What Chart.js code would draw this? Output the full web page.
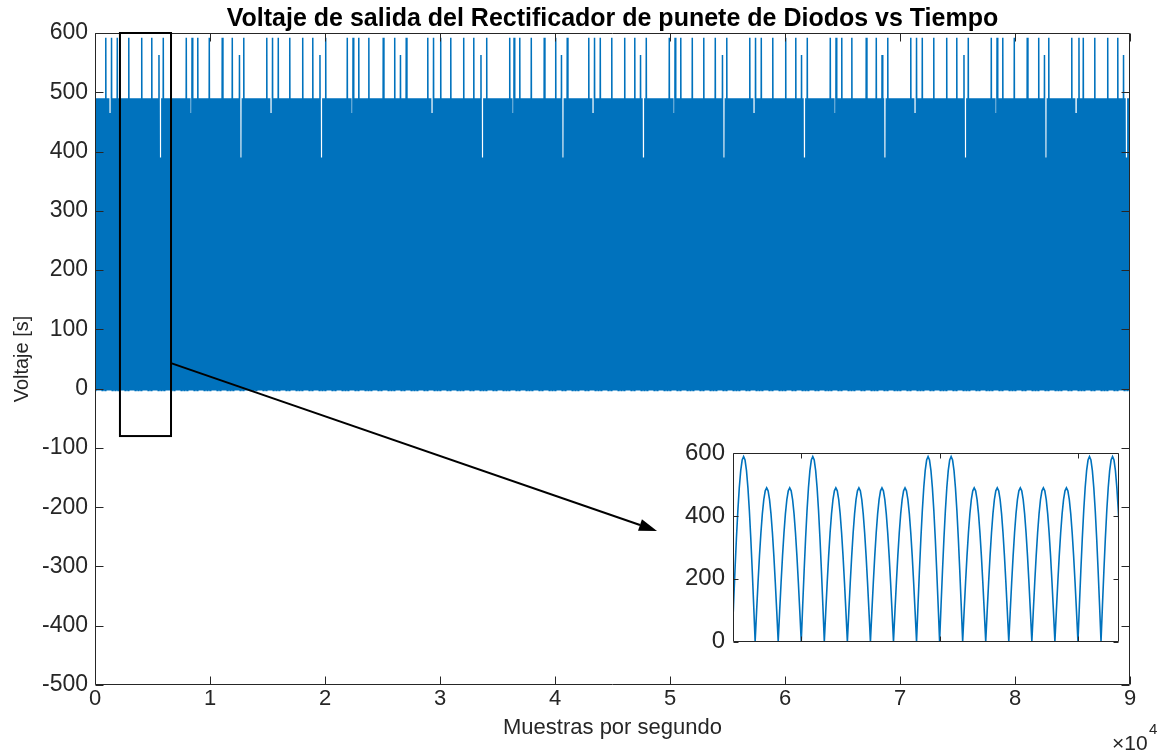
<!DOCTYPE html>
<html>
<head>
<meta charset="utf-8">
<script src="https://cdn.jsdelivr.net/npm/chart.js@4.4.0/dist/chart.umd.min.js"></script>
<style>
html,body{margin:0;padding:0;background:#fff;}
#wrap{position:relative;width:1174px;height:754px;overflow:hidden;}
#main{position:absolute;left:0;top:0;}
#inset{position:absolute;left:670px;top:431px;}
</style>
</head>
<body>
<div id="wrap">
<canvas id="main" width="1174" height="754"></canvas>
<canvas id="inset" width="455" height="233"></canvas>
</div>
<script>
// ---------------- DATA ----------------
const titleText = 'Voltaje de salida del Rectificador de punete de Diodos vs Tiempo';
const xTitleText = 'Muestras por segundo';
const yTitleText = 'Voltaje [s]';

const xTickValues = [0, 1, 2, 3, 4, 5, 6, 7, 8, 9];            // ×10^4 samples
const xTickLabels = ['0', '1', '2', '3', '4', '5', '6', '7', '8', '9'];
const yTickValues = [-500, -400, -300, -200, -100, 0, 100, 200, 300, 400, 500, 600];
const yTickLabels = ['-500', '-400', '-300', '-200', '-100', '0', '100', '200', '300', '400', '500', '600'];

// main signal: rectified half waves (x in ×10^4 samples)
const halfWaveWidth = 0.0125;   // width of one half wave
const basePeak = 490;           // usual crest of the half waves
const troughValue = -3;         // bottom of the half waves
const tallSpikeValue = 592;
const tallSpikeX = [
  0.096, 0.145, 0.197, 0.290, 0.406, 0.498, 0.600,
  0.797, 0.846, 0.898, 0.991, 1.102, 1.194, 1.298,
  1.498, 1.545, 1.594, 1.690, 1.803, 1.898, 2.000,
  2.194, 2.241, 2.296, 2.383, 2.507, 2.600, 2.702,
  2.898, 2.948, 3.000, 3.093, 3.203, 3.298, 3.400,
  3.600, 3.646, 3.698, 3.791, 3.904, 4.000, 4.102,
  4.298, 4.348, 4.397, 4.493, 4.603, 4.696, 4.797,
  4.991, 5.043, 5.096, 5.189, 5.298, 5.397, 5.498,
  5.696, 5.745, 5.797, 5.890, 6.000, 6.096, 6.197,
  6.397, 6.443, 6.493, 6.585, 6.702, 6.797, 6.898,
  7.096, 7.145, 7.194, 7.290, 7.400, 7.498, 7.600,
  7.797, 7.846, 7.898, 7.991, 8.107, 8.203, 8.298,
  8.498, 8.550, 8.600, 8.690, 8.806, 8.898
];
const shortSpikeValue = 563;
const shortSpikeX = [0.550, 1.252, 1.950, 2.652, 3.354, 4.052, 4.748, 5.450, 6.145, 6.846, 7.550, 8.255, 8.950];
const deepDipValue = 390;
const deepDipX = [0.565, 1.267, 1.965, 2.661, 3.363, 4.063, 4.763, 5.463, 6.165, 6.863, 7.565, 8.267, 8.963];
const shallowDipValue = 465;
const shallowDipX = [0.130, 0.832, 1.530, 2.232, 2.928, 3.629, 4.328, 5.029, 5.730, 6.426, 7.130, 7.832, 8.530];

// zoomed inset: crest of each half wave, and the shape of one half wave (fraction of crest)
const insetPeaks = [590, 490, 490, 590, 490, 490, 490, 490, 590, 590, 490, 490, 490, 490, 490, 590, 590];
const halfWaveShape = [0, 0.195, 0.383, 0.556, 0.707, 0.831, 0.924, 0.981, 1, 0.981, 0.924, 0.831, 0.707, 0.556, 0.383, 0.195, 0];
const insetYTickValues = [0, 200, 400, 600];
const insetYTickLabels = ['0', '200', '400', '600'];
const insetXTickValues = [3, 9, 15];

// annotation: zoom rectangle and arrow (main-chart data units)
const zoomBox = { x0: 0.217, x1: 0.661, y0: -80, y1: 600 };
const arrowFrom = { x: 0.661, y: 43 };
const arrowTo = { x: 4.887, y: -240 };

// ---------------- BUILD SERIES ----------------
const nWaves = Math.round(9 / halfWaveWidth);
const crest = new Array(nWaves).fill(basePeak);
function setCrest(list, value) {
  list.forEach(x => {
    const i = Math.floor(x / halfWaveWidth);
    if (i >= 0 && i < nWaves) crest[i] = value;
  });
}
setCrest(shallowDipX, shallowDipValue);
setCrest(deepDipX, deepDipValue);
setCrest(shortSpikeX, shortSpikeValue);
setCrest(tallSpikeX, tallSpikeValue);

const mainPoints = [];
for (let i = 0; i < nWaves; i++) {
  mainPoints.push({ x: i * halfWaveWidth, y: troughValue });
  mainPoints.push({ x: (i + 0.5) * halfWaveWidth, y: crest[i] });
}
mainPoints.push({ x: nWaves * halfWaveWidth, y: troughValue });

const insetPoints = [];
insetPeaks.forEach((p, k) => {
  halfWaveShape.forEach((s, j) => {
    if (j === 0 && k > 0) return;
    insetPoints.push({ x: k + j / (halfWaveShape.length - 1), y: p * s });
  });
});

// ---------------- DRAWING ----------------
const FONT = "'Liberation Sans', Arial, Helvetica, sans-serif";
Chart.defaults.font.family = FONT;
Chart.defaults.color = '#262626';

function makeFrame(xTicks, yTicks, len) {
  return {
    id: 'frame',
    afterDatasetsDraw(chart) {
      const { ctx, chartArea: a, scales: { x, y } } = chart;
      const L = Math.round(a.left) + 0.5, R = Math.round(a.right) - 0.5;
      const T = Math.round(a.top) + 0.5, B = Math.round(a.bottom) - 0.5;
      ctx.save();
      ctx.strokeStyle = '#262626';
      ctx.lineWidth = 1;
      ctx.beginPath();
      yTicks.forEach(v => {
        const py = Math.round(y.getPixelForValue(v)) + 0.5;
        ctx.moveTo(L, py); ctx.lineTo(L + len, py);
        ctx.moveTo(R, py); ctx.lineTo(R - len, py);
      });
      xTicks.forEach(v => {
        const px = Math.round(x.getPixelForValue(v)) + 0.5;
        ctx.moveTo(px, B); ctx.lineTo(px, B - len);
        ctx.moveTo(px, T); ctx.lineTo(px, T + len);
      });
      ctx.rect(L, T, R - L, B - T);
      ctx.stroke();
      ctx.restore();
    }
  };
}

const annotatePlugin = {
  id: 'annotate',
  afterDraw(chart) {
    const { ctx, scales: { x, y } } = chart;
    ctx.save();
    // zoom rectangle
    const rx0 = x.getPixelForValue(zoomBox.x0), rx1 = x.getPixelForValue(zoomBox.x1);
    const ry0 = y.getPixelForValue(zoomBox.y0), ry1 = y.getPixelForValue(zoomBox.y1);
    ctx.strokeStyle = '#000';
    ctx.lineWidth = 2;
    ctx.strokeRect(rx0, ry1, rx1 - rx0, ry0 - ry1);
    // arrow
    const ax0 = x.getPixelForValue(arrowFrom.x), ay0 = y.getPixelForValue(arrowFrom.y);
    const ax1 = x.getPixelForValue(arrowTo.x), ay1 = y.getPixelForValue(arrowTo.y);
    const ang = Math.atan2(ay1 - ay0, ax1 - ax0);
    const headLen = 18, headHalf = 6;
    const bx = ax1 - headLen * Math.cos(ang), by = ay1 - headLen * Math.sin(ang);
    ctx.beginPath();
    ctx.moveTo(ax0, ay0);
    ctx.lineTo(bx, by);
    ctx.stroke();
    ctx.beginPath();
    ctx.moveTo(ax1, ay1);
    ctx.lineTo(bx + headHalf * Math.sin(ang), by - headHalf * Math.cos(ang));
    ctx.lineTo(bx - headHalf * Math.sin(ang), by + headHalf * Math.cos(ang));
    ctx.closePath();
    ctx.fillStyle = '#000';
    ctx.fill();
    // exponent label
    ctx.fillStyle = '#262626';
    ctx.textBaseline = 'alphabetic';
    ctx.textAlign = 'left';
    ctx.font = '21px ' + FONT;
    ctx.fillText('\u00d710', 1112, 750);
    ctx.font = '15px ' + FONT;
    ctx.fillText('4', 1149, 734);
    ctx.restore();
  }
};

new Chart(document.getElementById('main'), {
  type: 'line',
  data: {
    datasets: [{
      data: mainPoints,
      parsing: false,
      borderColor: '#0072BD',
      borderWidth: 1.5,
      pointRadius: 0,
      tension: 0,
      fill: false
    }]
  },
  options: {
    responsive: false,
    animation: false,
    devicePixelRatio: 1,
    normalized: true,
    layout: { padding: { left: 0, right: 44, top: 0, bottom: 0 } },
    plugins: {
      legend: { display: false },
      tooltip: { enabled: false },
      title: {
        display: true,
        text: titleText,
        fullSize: false,
        color: '#000',
        font: { size: 25, weight: 'bold', lineHeight: '28px' },
        padding: { top: 5, bottom: 0 }
      }
    },
    scales: {
      x: {
        type: 'linear',
        min: 0, max: 9,
        afterFit(s) { s.height = 69; },
        afterBuildTicks(s) { s.ticks = xTickValues.map(v => ({ value: v })); },
        ticks: {
          autoSkip: false, maxRotation: 0, padding: 1,
          font: { size: 22 }, color: '#262626',
          callback: (v, i) => xTickLabels[i]
        },
        grid: { display: false, drawTicks: false },
        border: { display: false },
        title: {
          display: true, text: xTitleText, color: '#262626',
          font: { size: 22 }, padding: { top: 0, bottom: 13 }
        }
      },
      y: {
        type: 'linear',
        min: -500, max: 600,
        afterFit(s) { s.width = 95; },
        afterBuildTicks(s) { s.ticks = yTickValues.map(v => ({ value: v })); },
        ticks: {
          autoSkip: false, padding: 7,
          font: { size: 23 }, color: '#262626',
          callback: (v, i) => yTickLabels[i]
        },
        grid: { display: false, drawTicks: false },
        border: { display: false },
        title: {
          display: true, text: yTitleText, color: '#262626',
          font: { size: 20 }, padding: { top: 10, bottom: 0 }
        }
      }
    }
  },
  plugins: [makeFrame(xTickValues, yTickValues, 8), annotatePlugin]
});

new Chart(document.getElementById('inset'), {
  type: 'line',
  data: {
    datasets: [{
      data: insetPoints,
      parsing: false,
      borderColor: '#0072BD',
      borderWidth: 1.6,
      pointRadius: 0,
      tension: 0,
      fill: false
    }]
  },
  options: {
    responsive: false,
    animation: false,
    devicePixelRatio: 1,
    layout: { padding: { left: 0, right: 6, top: 14, bottom: 0 } },
    plugins: { legend: { display: false }, tooltip: { enabled: false }, title: { display: false } },
    scales: {
      x: {
        type: 'linear', min: 0.04, max: 16.78,
        afterFit(s) { s.height = 14; },
        ticks: { display: false },
        grid: { display: false, drawTicks: false },
        border: { display: false }
      },
      y: {
        type: 'linear', min: 0, max: 600,
        afterFit(s) { s.width = 63; },
        afterBuildTicks(s) { s.ticks = insetYTickValues.map(v => ({ value: v })); },
        ticks: {
          autoSkip: false, padding: 8,
          font: { size: 24 }, color: '#262626',
          callback: (v, i) => insetYTickLabels[i]
        },
        grid: { display: false, drawTicks: false },
        border: { display: false }
      }
    }
  },
  plugins: [makeFrame(insetXTickValues, insetYTickValues, 5)]
});
</script>
</body>
</html>
